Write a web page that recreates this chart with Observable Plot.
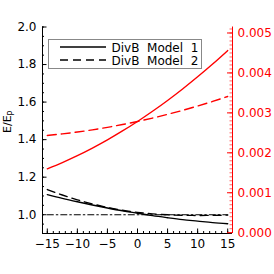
<!DOCTYPE html>
<html><head><meta charset="utf-8">
<script src="https://cdn.jsdelivr.net/npm/d3@7"></script>
<script src="https://cdn.jsdelivr.net/npm/@observablehq/plot@0.6"></script>
<style>body{margin:0;background:#fff}svg{display:block}</style>
</head><body><div id="chart"></div>
<script>
// ---- data ----
const xs = [-15,-12.5,-10,-7.5,-5,-2.5,0,2.5,5,7.5,10,12.5,15];
// left axis (E/Ep), black
const model1Ratio = [1.107,1.087,1.069,1.052,1.036,1.021,1.008,0.995,0.984,0.974,0.966,0.958,0.952];
const model2Ratio = [1.134,1.105,1.0795,1.0575,1.039,1.024,1.0125,1.0045,0.9995,0.997,0.9962,0.9967,0.9979];
// right axis, red
const model1Right = [0.001600,0.001757,0.001929,0.002119,0.002324,0.002547,0.002785,0.003040,0.003311,0.003599,0.003903,0.004223,0.004560];
const model2Right = [0.002434,0.002474,0.002521,0.002575,0.002638,0.002708,0.002785,0.002870,0.002963,0.003063,0.003171,0.003286,0.003410];
const refX = [-15,15];
const refY = [1,1];

const xTickValues = [-15,-10,-5,0,5,10,15];
const xTickLabels = ["\u221215","\u221210","\u22125","0","5","10","15"];
const yTickValues = [1.0,1.2,1.4,1.6,1.8,2.0];
const yTickLabels = ["1.0","1.2","1.4","1.6","1.8","2.0"];
const rTickValues = [0,0.001,0.002,0.003,0.004,0.005];
const rTickLabels = ["0.000","0.001","0.002","0.003","0.004","0.005"];
const legendLabels = ["DivB\u00a0\u00a0Model\u00a0\u00a01","DivB\u00a0\u00a0Model\u00a0\u00a02"];

// ---- layout ----
const W = 274, H = 274, mL = 42, mR = 42, mT = 26.5, mB = 41;
const XD = [-15.8, 15.8];
const Y0 = 0.9, Y1 = 2.0;
const R0 = -0.00002, R1 = 0.00515;
const toLeft = v => Y0 + (v - R0) / (R1 - R0) * (Y1 - Y0);
const kx = (W - mL - mR) / (XD[1] - XD[0]);
const ky = (H - mT - mB) / (Y1 - Y0);
const RED = "#ff0000";

const xMinor = d3.range(-15, 15.001, 1);
const yMinor = d3.range(0, 23).map(i => +(0.9 + i * 0.05).toFixed(2));
const rMinor = d3.range(0, 52).map(i => i * 0.0001);

const font = "DejaVu Sans";

const chart = Plot.plot({
  width: W, height: H,
  marginLeft: mL, marginRight: mR, marginTop: mT, marginBottom: mB,
  style: {fontFamily: font, background: "#fff"},
  x: {domain: XD, axis: null},
  y: {domain: [Y0, Y1], axis: null},
  marks: [
    // axis lines
    Plot.ruleX([XD[0]], {stroke: "black", strokeWidth: 1}),
    Plot.ruleY([Y0], {stroke: "black", strokeWidth: 1}),
    Plot.ruleX([XD[1]], {stroke: RED, strokeWidth: 1}),
    // left ticks
    Plot.ruleY(yMinor, {y: d => d, x1: XD[0], x2: XD[0] + 2 / kx, stroke: "black"}),
    Plot.ruleY(yTickValues, {y: d => d, x1: XD[0], x2: XD[0] + 4.5 / kx, stroke: "black"}),
    // bottom ticks
    Plot.ruleX(xMinor, {x: d => d, y1: Y0, y2: Y0 + 2 / ky, stroke: "black"}),
    Plot.ruleX(xTickValues, {x: d => d, y1: Y0, y2: Y0 + 4.5 / ky, stroke: "black"}),
    // right ticks
    Plot.ruleY(rMinor, {y: d => toLeft(d), x1: XD[1] - 2.5 / kx, x2: XD[1], stroke: RED, strokeOpacity: 0.6}),
    Plot.ruleY(rTickValues, {y: d => toLeft(d), x1: XD[1] - 5 / kx, x2: XD[1], stroke: RED}),
    // tick labels
    Plot.text(yTickValues, {y: d => d, text: (d, i) => yTickLabels[i], frameAnchor: "left", dx: -6, textAnchor: "end", fontSize: 12, fill: "black"}),
    Plot.text(xTickValues, {x: d => d, text: (d, i) => xTickLabels[i], frameAnchor: "bottom", dy: 14, fontSize: 12, fill: "black"}),
    Plot.text(rTickValues, {y: d => toLeft(d), text: (d, i) => rTickLabels[i], frameAnchor: "right", dx: 5, textAnchor: "start", fontSize: 12, fill: RED}),
    // reference line
    Plot.line(refX, {x: d => d, y: (d, i) => refY[i], stroke: "black", strokeWidth: 1.2, strokeDasharray: "6,3,1.5,3"}),
    // red curves (right axis)
    Plot.line(xs, {x: d => d, y: (d, i) => toLeft(model2Right[i]), stroke: RED, strokeWidth: 1.4, strokeDasharray: "9,5", curve: "natural"}),
    Plot.line(xs, {x: d => d, y: (d, i) => toLeft(model1Right[i]), stroke: RED, strokeWidth: 1.4, curve: "natural"}),
    // black curves (left axis)
    Plot.line(xs, {x: d => d, y: (d, i) => model2Ratio[i], stroke: "black", strokeWidth: 1.4, strokeDasharray: "8,5", curve: "natural"}),
    Plot.line(xs, {x: d => d, y: (d, i) => model1Ratio[i], stroke: "black", strokeWidth: 1.4, curve: "natural"})
  ]
});
document.getElementById("chart").appendChild(chart);

// legend and y-axis title
const svg = d3.select(chart);
const lg = svg.append("g").attr("font-family", font).attr("font-size", 12).attr("text-anchor", "start");
lg.append("rect").attr("x", 48.5).attr("y", 39.5).attr("width", 153).attr("height", 29)
  .attr("fill", "white").attr("stroke", "#888").attr("stroke-width", 1);
const dashes = [null, "8,5"];
legendLabels.forEach((t, i) => {
  const yy = 47 + i * 13;
  lg.append("line").attr("x1", 60).attr("x2", 106).attr("y1", yy).attr("y2", yy)
    .attr("stroke", "black").attr("stroke-width", 1.4).attr("stroke-dasharray", dashes[i]);
  lg.append("text").attr("x", 111.5).attr("y", yy + 4.8).attr("fill", "black").attr("text-anchor", "start").text(t);
});
const yt = svg.append("text").attr("font-family", font).attr("font-size", 11).attr("fill", "black")
  .attr("text-anchor", "start")
  .attr("transform", "translate(10.5,133) rotate(-90)");
yt.append("tspan").text("E/E");
yt.append("tspan").attr("font-size", 8).attr("dy", 3).text("P");
</script></body></html>
